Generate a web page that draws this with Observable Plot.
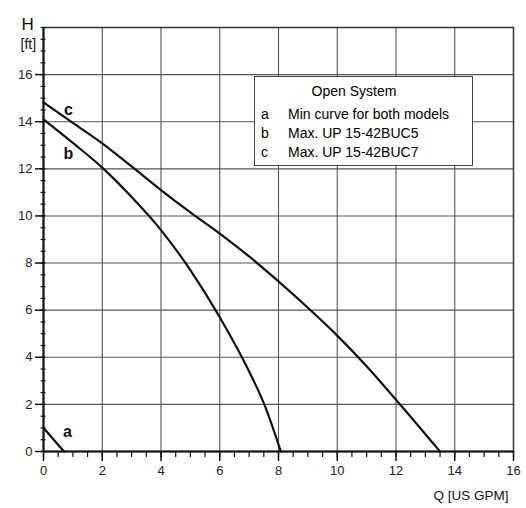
<!DOCTYPE html>
<html>
<head>
<meta charset="utf-8">
<script src="https://cdn.jsdelivr.net/npm/d3@7"></script>
<script src="https://cdn.jsdelivr.net/npm/@observablehq/plot@0.6"></script>
<style>
  html, body { margin: 0; padding: 0; background: white; }
  #wrap { position: relative; width: 526px; height: 508px; font-family: "Liberation Sans", Arial, sans-serif; }
  #legend { position: absolute; left: 254px; top: 76px; width: 217px; height: 88px; border: 1.5px solid #444; background: white; color: #000; font-size: 14px; }
  #legend .title { position: absolute; left: 0; width: 198px; top: 6px; text-align: center; }
  #legend .row { position: absolute; left: 0; width: 217px; }
  #legend .k { position: absolute; left: 6px; }
  #legend .v { position: absolute; left: 33px; white-space: nowrap; }
</style>
</head>
<body>
<div id="wrap"></div>
<script>
// Curve a: min curve for both models
const qA = [0, 0.35, 0.7];
const hA = [1.0, 0.5, 0];
// Curve b: Max. UP 15-42BUC5
const qB = [0, 1, 2, 3, 4, 5, 6, 7, 7.5, 8.08];
const hB = [14.1, 13.1, 12.05, 10.8, 9.4, 7.7, 5.7, 3.4, 2.05, 0];
// Curve c: Max. UP 15-42BUC7
const qC = [0, 1, 2, 3, 4, 5, 6, 7, 8, 9, 10, 11, 12, 13.5];
const hC = [14.82, 13.95, 13.08, 12.1, 11.1, 10.15, 9.25, 8.28, 7.22, 6.1, 4.92, 3.62, 2.2, 0];

const xMajor = [0, 2, 4, 6, 8, 10, 12, 14, 16];
const yMajor = [0, 2, 4, 6, 8, 10, 12, 14, 16];
const xMinor = d3.range(0, 16.01, 0.5);
const yMinor = d3.range(0, 18.01, 0.5);
const xGrid = [2, 4, 6, 8, 10, 12, 14];
const yGrid = [2, 4, 6, 8, 10, 12, 14, 16];

const legendTitle = "Open System";
const legendKeys = ["a", "b", "c"];
const legendLabels = ["Min curve for both models", "Max. UP 15-42BUC5", "Max. UP 15-42BUC7"];

const lineStyle = {stroke: "#111", strokeWidth: 2.2, curve: "monotone-x"};
const labelStyle = {fontWeight: "bold", fontSize: 16, fill: "#111"};

const chart = Plot.plot({
  width: 526,
  height: 508,
  marginLeft: 43,
  marginRight: 13,
  marginTop: 27,
  marginBottom: 57,
  x: {domain: [0, 16], label: null},
  y: {domain: [0, 18], label: null},
  style: {fontFamily: "'Liberation Sans', Arial, sans-serif", fontSize: "13px", background: "white", color: "#222"},
  marks: [
    Plot.gridX(xGrid, {stroke: "#555", strokeOpacity: 1, strokeWidth: 1.1}),
    Plot.gridY(yGrid, {stroke: "#555", strokeOpacity: 1, strokeWidth: 1.1}),
    Plot.frame({stroke: "#333", strokeWidth: 1.5}),
    Plot.axisX({ticks: xMinor, tickSize: 6, tickFormat: () => "", stroke: "#111", strokeWidth: 1.2}),
    Plot.axisX({ticks: xMajor, tickSize: 10, tickPadding: 4, strokeWidth: 1.5, stroke: "#111", fontSize: 13}),
    Plot.axisY({ticks: yMajor, tickSize: 8, tickPadding: 3, strokeWidth: 1.5, stroke: "#111", fontSize: 13}),
    Plot.axisY({ticks: yMinor, tickSize: 5, dx: 2.5, tickFormat: () => "", stroke: "#111", strokeWidth: 1.2}),
    Plot.ruleY([0], {stroke: "#111", strokeWidth: 2}),
    Plot.ruleX([0], {stroke: "#111", strokeWidth: 2}),
    Plot.line(qA, {x: qA, y: hA, ...lineStyle}),
    Plot.line(qB, {x: qB, y: hB, ...lineStyle}),
    Plot.line(qC, {x: qC, y: hC, ...lineStyle}),
    Plot.text(["a"], {x: [qA[0]], y: [hA[0]], dx: 24, dy: 4, ...labelStyle}),
    Plot.text(["b"], {x: [qB[0]], y: [hB[0]], dx: 25, dy: 35, ...labelStyle}),
    Plot.text(["c"], {x: [qC[0]], y: [hC[0]], dx: 25, dy: 7, ...labelStyle}),
    Plot.text(["H"], {frameAnchor: "top-left", dx: -22, dy: -10, fontSize: 17, fill: "#111"}),
    Plot.text(["[ft]"], {frameAnchor: "top-left", dx: -23, dy: 12, fontSize: 14, fill: "#111"}),
    Plot.text(["Q [US GPM]"], {frameAnchor: "bottom-right", textAnchor: "end", dx: -5, dy: 48, fontSize: 13.5, fill: "#111"})
  ]
});

const wrap = document.getElementById("wrap");
wrap.appendChild(chart);

const legend = document.createElement("div");
legend.id = "legend";
const t = document.createElement("div");
t.className = "title";
t.textContent = legendTitle;
legend.appendChild(t);
legendKeys.forEach((k, i) => {
  const row = document.createElement("div");
  row.className = "row";
  row.style.top = (29 + i * 19) + "px";
  const ks = document.createElement("span");
  ks.className = "k";
  ks.textContent = k;
  const vs = document.createElement("span");
  vs.className = "v";
  vs.textContent = legendLabels[i];
  row.appendChild(ks);
  row.appendChild(vs);
  legend.appendChild(row);
});
wrap.appendChild(legend);
</script>
</body>
</html>
